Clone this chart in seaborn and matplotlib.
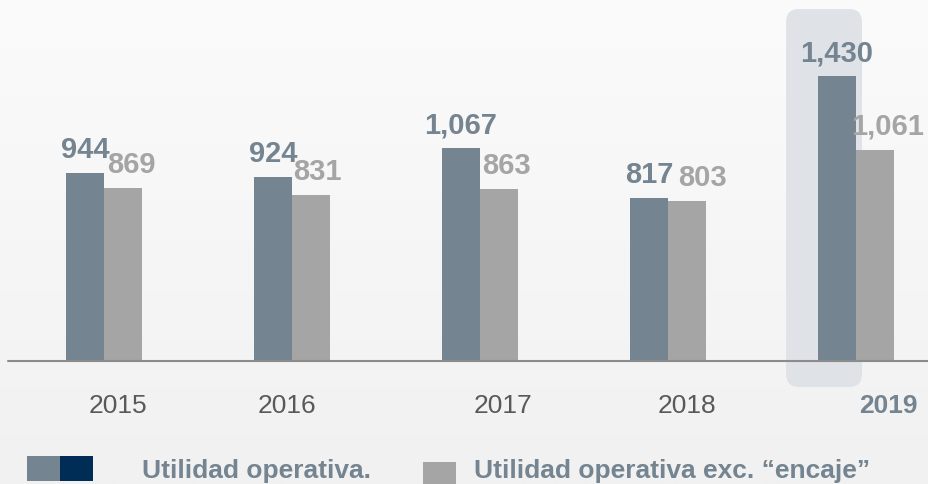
import matplotlib.pyplot as plt
import matplotlib.patches as patches
import matplotlib.transforms as mtransforms
import numpy as np
import pandas as pd
import seaborn as sns
from matplotlib.colors import LinearSegmentedColormap

# data
years = ["2015", "2016", "2017", "2018", "2019"]
utilidad = [944, 924, 1067, 817, 1430]
utilidad_exc = [869, 831, 863, 803, 1061]
series_names = ["Utilidad operativa.", "Utilidad operativa exc. \u201cencaje\u201d"]
highlight_year = "2019"

DARK = "#748490"
LIGHT = "#a5a5a5"
NAVY = "#002d55"
YEAR_GREY = "#595959"

df = pd.DataFrame({
    "year": years * 2,
    "value": utilidad + utilidad_exc,
    "serie": [series_names[0]] * len(years) + [series_names[1]] * len(years),
})

sns.set_theme(style="white")
plt.rcParams["font.family"] = ["Liberation Sans", "DejaVu Sans"]

W, H = 929, 485
fig = plt.figure(figsize=(W / 100, H / 100), dpi=100)

# soft vertical background gradient
bg = fig.add_axes([0, 0, 1, 1], zorder=-2)
grad = np.linspace(0, 1, 256).reshape(-1, 1)
bg.imshow(grad, cmap=LinearSegmentedColormap.from_list("bg", ["#fbfbfb", "#f1f1f1"]),
          aspect="auto", extent=[0, 1, 0, 1])
bg.axis("off")

# main axes: bottom edge sits on the baseline (362 px from the top)
base_px = 362
ax = fig.add_axes([0, (H - base_px) / H, 1, base_px / H])
ax.patch.set_alpha(0)
sns.barplot(data=df, x="year", y="value", hue="serie", palette=[DARK, LIGHT],
            width=0.404, saturation=1, errorbar=None, legend=False,
            linewidth=0, edgecolor="none", ax=ax)

px_per_unit = 0.1993
ax.set_xlim(-104 / 188, (W - 104) / 188)
ax.set_ylim(0, base_px / px_per_unit)
for s in ax.spines.values():
    s.set_visible(False)
ax.set_xlabel("")
ax.set_ylabel("")
ax.set_yticks([])

# highlight box behind the last year
hl = years.index(highlight_year)
box = patches.FancyBboxPatch(
    (hl - 0.372, -26 / px_per_unit), 0.404, 378 / px_per_unit,
    boxstyle="round,pad=0,rounding_size=0.07", mutation_aspect=(13 / px_per_unit) / 0.07,
    fc="#dfe3e7", ec="none", zorder=0, clip_on=False)
ax.add_patch(box)

ax.axhline(0, xmin=8 / W, xmax=1, color="#8c8c8c", lw=1.5, zorder=3, clip_on=False)

# value labels
light_dx = [8, 6, 7, 15, 13]  # px shift of the grey labels
for k, (cont, color) in enumerate(zip(ax.containers, [DARK, LIGHT])):
    for i, bar in enumerate(cont):
        dx = light_dx[i] if k == 1 else 0
        ax.annotate(f"{bar.get_height():,.0f}",
                    xy=(bar.get_x() + bar.get_width() / 2, bar.get_height()),
                    xytext=(dx * 0.72, 16 * 0.72), textcoords="offset points",
                    ha="center", va="baseline", fontsize=21, fontweight="bold",
                    color=color)

# year labels
year_dx = [14, -5, 23, 19, 32]
ax.tick_params(axis="x", length=0, pad=23)
ax.set_xticks(range(len(years)))
ax.set_xticklabels(years)
for lab, dx, yr in zip(ax.get_xticklabels(), year_dx, years):
    lab.set_fontsize(19)
    if yr == highlight_year:
        lab.set_color(DARK)
        lab.set_fontweight("bold")
    else:
        lab.set_color(YEAR_GREY)
    lab.set_transform(lab.get_transform() +
                      mtransforms.ScaledTranslation(dx / 100, 0, fig.dpi_scale_trans))

# legend drawn in pixel space
ov = fig.add_axes([0, 0, 1, 1])
ov.set_xlim(0, W)
ov.set_ylim(H, 0)
ov.axis("off")
ov.patch.set_alpha(0)
ov.add_patch(patches.Rectangle((27, 457), 33, 25, fc=DARK, ec="none"))
ov.add_patch(patches.Rectangle((60, 457), 33, 25, fc=NAVY, ec="none"))
ov.add_patch(patches.Rectangle((423, 463), 33, 30, fc=LIGHT, ec="none", clip_on=False))
ov.text(142, 478, series_names[0], fontsize=19, fontweight="bold", color=DARK, va="baseline")
ov.text(474, 478, series_names[1], fontsize=19, fontweight="bold", color=DARK, va="baseline")

fig.savefig("out.png", dpi=100)
